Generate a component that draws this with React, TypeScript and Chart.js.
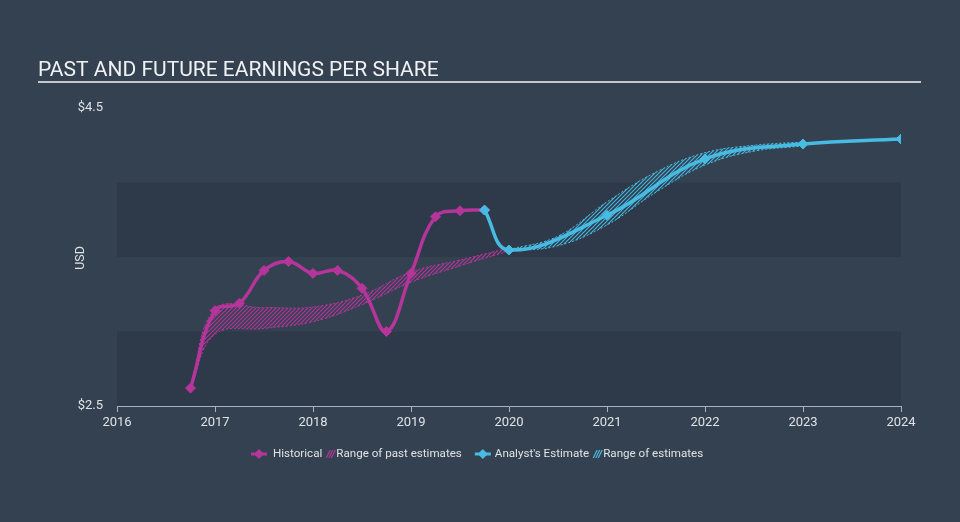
import React, { useEffect, useRef } from 'react';
import { Chart, registerables } from 'chart.js';

Chart.register(...registerables);

// ---- data ----
const historicalDates = [2016.75, 2017.0, 2017.25, 2017.5, 2017.75, 2018.0, 2018.25, 2018.5, 2018.75, 2019.0, 2019.25, 2019.5, 2019.75];
const historicalEPS = [2.62, 3.14, 3.19, 3.41, 3.47, 3.39, 3.41, 3.29, 3.0, 3.39, 3.77, 3.81, 3.815];

const estimateDates = [2019.75, 2020.0, 2021.0, 2022.0, 2023.0, 2024.0];
const estimateEPS = [3.815, 3.547, 3.78, 4.158, 4.258, 4.292];

const pastRangeDates = [2016.75, 2017.0, 2017.5, 2018.0, 2018.5, 2019.0, 2019.5, 2020.0];
const pastRangeHigh = [2.62, 3.15, 3.16, 3.165, 3.245, 3.4, 3.48, 3.56];
const pastRangeLow = [2.62, 2.98, 3.02, 3.065, 3.18, 3.33, 3.44, 3.54];

const futureRangeDates = [2020.0, 2020.5, 2021.0, 2021.5, 2022.0, 2022.5, 2023.0];
const futureRangeHigh = [3.55, 3.64, 3.87, 4.07, 4.2, 4.25, 4.272];
const futureRangeLow = [3.54, 3.575, 3.715, 3.935, 4.117, 4.21, 4.245];

const yearTicks = [2016, 2017, 2018, 2019, 2020, 2021, 2022, 2023, 2024];
const yTickValues = [2.5, 4.5];
const bandEdges = [2.5, 3.0, 3.5, 4.0];

const titleText = 'PAST AND FUTURE EARNINGS PER SHARE';
const yAxisLabel = 'USD';
const legendLabels = ['Historical', 'Range of past estimates', "Analyst's Estimate", 'Range of estimates'];

// ---- styles ----
const BG = '#344151';
const BAND = '#2e3a49';
const MAGENTA = '#b5359b';
const CYAN = '#48bbe3';
const AXIS = '#aab2bc';
const TEXT = '#dfe2e6';
const FONT = 'Roboto';

const zip = (xs: number[], ys: number[]) => xs.map((x, i) => ({ x, y: ys[i] }));

function makePattern(color: string) {
  const c = document.createElement('canvas');
  c.width = 4;
  c.height = 4;
  const g = c.getContext('2d')!;
  g.strokeStyle = color;
  g.lineWidth = 1.2;
  g.beginPath();
  g.moveTo(0, 4);
  g.lineTo(4, 0);
  g.moveTo(-1, 1);
  g.lineTo(1, -1);
  g.moveTo(3, 5);
  g.lineTo(5, 3);
  g.stroke();
  return g.createPattern(c, 'repeat') as CanvasPattern;
}

const decorPlugin = {
  id: 'decor',
  beforeDraw(chart: any) {
    const { ctx, chartArea, scales } = chart;
    ctx.save();
    ctx.fillStyle = BG;
    ctx.fillRect(0, 0, chart.width, chart.height);
    const y = scales.y;
    ctx.fillStyle = BAND;
    for (let i = 0; i < bandEdges.length; i += 2) {
      const top = y.getPixelForValue(bandEdges[i + 1]);
      const bot = y.getPixelForValue(bandEdges[i]);
      ctx.fillRect(chartArea.left, top, chartArea.right - chartArea.left, bot - top);
    }
    // title
    ctx.fillStyle = '#f0f1f3';
    ctx.font = `21px ${FONT}`;
    ctx.textAlign = 'left';
    ctx.textBaseline = 'alphabetic';
    ctx.fillText(titleText, 38, 76);
    ctx.fillStyle = '#c3c8ce';
    ctx.fillRect(38, 81, 883, 2);
    // y axis label
    ctx.save();
    ctx.translate(81, 258);
    ctx.rotate(-Math.PI / 2);
    ctx.fillStyle = TEXT;
    ctx.font = `12.5px ${FONT}`;
    ctx.textAlign = 'center';
    ctx.textBaseline = 'middle';
    ctx.fillText(yAxisLabel, 0, 0);
    ctx.restore();
    ctx.restore();
  },
  afterDraw(chart: any) {
    const ctx = chart.ctx as CanvasRenderingContext2D;
    ctx.save();
    ctx.font = `11.6px ${FONT}`;
    ctx.textBaseline = 'middle';
    ctx.textAlign = 'left';
    const yC = 454;
    const w = legendLabels.map((t) => ctx.measureText(t).width);
    const lineIcon = 16, hatchIcon = 7;
    const total = lineIcon + 6 + w[0] + 4 + hatchIcon + 3 + w[1] + 13 + lineIcon + 4 + w[2] + 4 + hatchIcon + 3 + w[3];
    let x = Math.round(477.5 - total / 2);
    const drawLineIcon = (col: string) => {
      ctx.strokeStyle = col;
      ctx.lineWidth = 3;
      ctx.beginPath();
      ctx.moveTo(x, yC);
      ctx.lineTo(x + lineIcon, yC);
      ctx.stroke();
      ctx.fillStyle = col;
      ctx.beginPath();
      const cx = x + lineIcon / 2;
      ctx.moveTo(cx, yC - 5);
      ctx.lineTo(cx + 5, yC);
      ctx.lineTo(cx, yC + 5);
      ctx.lineTo(cx - 5, yC);
      ctx.closePath();
      ctx.fill();
      x += lineIcon;
    };
    const drawHatchIcon = (col: string) => {
      ctx.strokeStyle = col;
      ctx.lineWidth = 1.2;
      ctx.beginPath();
      for (let k = 0; k < 3; k++) {
        ctx.moveTo(x + k * 2.5, yC + 4);
        ctx.lineTo(x + k * 2.5 + 4, yC - 4);
      }
      ctx.stroke();
      x += hatchIcon;
    };
    const drawText = (t: string, wd: number) => {
      ctx.fillStyle = TEXT;
      ctx.fillText(t, x, yC);
      x += wd;
    };
    drawLineIcon(MAGENTA); x += 6; drawText(legendLabels[0], w[0]); x += 4;
    drawHatchIcon(MAGENTA); x += 3; drawText(legendLabels[1], w[1]); x += 13;
    drawLineIcon(CYAN); x += 4; drawText(legendLabels[2], w[2]); x += 4;
    drawHatchIcon(CYAN); x += 3; drawText(legendLabels[3], w[3]);
    ctx.restore();
  },
};

export default function App() {
  const ref = useRef<HTMLCanvasElement | null>(null);

  useEffect(() => {
    const canvas = ref.current;
    if (!canvas) return;
    const pastPattern = makePattern('rgba(181,53,155,1)');
    const futurePattern = makePattern('rgba(72,187,227,0.95)');

    const rangeStyle = {
      borderWidth: 1,
      borderDash: [2, 2],
      pointRadius: 0,
      pointHoverRadius: 0,
      tension: 0.4,
      order: 2,
    };
    const lineStyle = {
      borderWidth: 3.5,
      pointStyle: 'rectRot',
      pointRadius: 5,
      pointHoverRadius: 5,
      pointBorderWidth: 1,
      tension: 0.4,
      fill: false,
    };

    const chart = new Chart(canvas, {
      type: 'line',
      data: {
        datasets: [
          { label: 'pastHigh', data: zip(pastRangeDates, pastRangeHigh), borderColor: MAGENTA, fill: false, ...rangeStyle } as any,
          { label: 'pastLow', data: zip(pastRangeDates, pastRangeLow), borderColor: MAGENTA, backgroundColor: pastPattern, fill: '-1', ...rangeStyle } as any,
          { label: 'futureHigh', data: zip(futureRangeDates, futureRangeHigh), borderColor: CYAN, fill: false, ...rangeStyle } as any,
          { label: 'futureLow', data: zip(futureRangeDates, futureRangeLow), borderColor: CYAN, backgroundColor: futurePattern, fill: '-1', ...rangeStyle } as any,
          { label: 'Historical', data: zip(historicalDates, historicalEPS), borderColor: MAGENTA, backgroundColor: MAGENTA, pointBackgroundColor: MAGENTA, pointBorderColor: MAGENTA, order: 1, ...lineStyle } as any,
          { label: "Analyst's Estimate", data: zip(estimateDates, estimateEPS), borderColor: CYAN, backgroundColor: CYAN, pointBackgroundColor: CYAN, pointBorderColor: CYAN, order: 0, ...lineStyle } as any,
        ],
      },
      options: {
        animation: false,
        responsive: false,
        devicePixelRatio: 1,
        layout: { padding: { top: 108, right: 59, left: 0, bottom: 0 } },
        plugins: { legend: { display: false }, tooltip: { enabled: false }, title: { display: false } },
        scales: {
          x: {
            type: 'linear',
            min: 2016,
            max: 2024,
            afterBuildTicks: (s: any) => { s.ticks = yearTicks.map((v) => ({ value: v })); },
            afterFit: (s: any) => { s.height = 116; },
            ticks: {
              color: TEXT,
              font: { family: FONT, size: 13 },
              padding: 3,
              maxRotation: 0,
              autoSkip: false,
              callback: (v: any) => String(v),
            },
            grid: { display: true, drawOnChartArea: false, drawTicks: true, tickLength: 6, color: AXIS },
            border: { display: true, color: AXIS, width: 1 },
          },
          y: {
            type: 'linear',
            min: 2.5,
            max: 4.5,
            afterBuildTicks: (s: any) => { s.ticks = yTickValues.map((v) => ({ value: v })); },
            afterFit: (s: any) => { s.width = 117; },
            ticks: {
              color: TEXT,
              font: { family: FONT, size: 13 },
              padding: 14,
              callback: (v: any) => '$' + Number(v).toFixed(1),
            },
            grid: { display: false, drawTicks: false },
            border: { display: false },
          },
        },
      } as any,
      plugins: [decorPlugin],
    });
    return () => chart.destroy();
  }, []);

  return (
    <div style={{ position: 'fixed', left: 0, top: 0, width: 960, height: 522, background: BG }}>
      <canvas ref={ref} width={960} height={522} style={{ display: 'block', width: 960, height: 522 }} />
    </div>
  );
}
